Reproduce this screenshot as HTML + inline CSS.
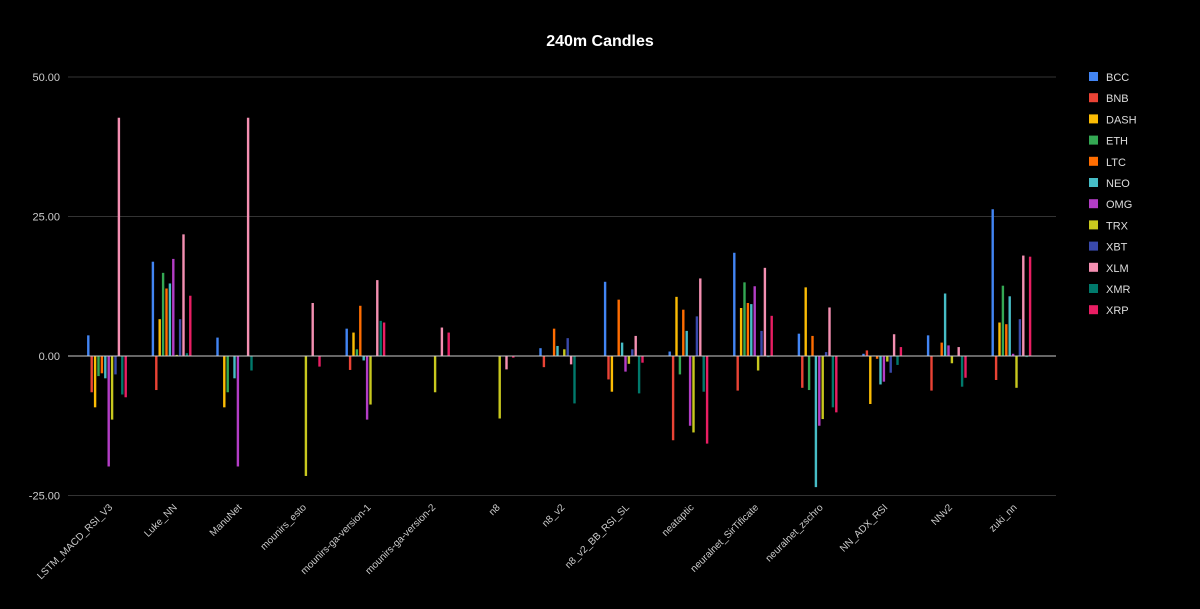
<!DOCTYPE html>
<html><head><meta charset="utf-8"><style>
body{margin:0;background:#000;}
svg text{font-family:"Liberation Sans",sans-serif;}
</style></head><body>
<svg id="c" width="1200" height="604" xmlns="http://www.w3.org/2000/svg">
<rect width="1200" height="604" fill="#000"/>
<text x="600" y="46" text-anchor="middle" font-size="16" font-weight="bold" fill="#fff">240m Candles</text>
</svg>
<script>
const categories=["LSTM_MACD_RSI_V3","Luke_NN","ManuNet","mounirs_esto","mounirs-ga-version-1","mounirs-ga-version-2","n8","n8_v2","n8_v2_BB_RSI_SL","neataptic","neuralnet_SirTificate","neuralnet_zschro","NN_ADX_RSI","NNv2","zuki_nn"];
const seriesNames=["BCC","BNB","DASH","ETH","LTC","NEO","OMG","TRX","XBT","XLM","XMR","XRP"];
const seriesColors=["#4285f4","#ea4335","#fbbc04","#34a853","#ff6d01","#46bdc6","#b33dc6","#c8c81e","#3949ab","#f48fb1","#00796b","#e91e63"];
const BCC=[3.7,16.9,3.3,0,4.9,0,0,1.4,13.3,0.8,18.5,4.0,0.4,3.7,26.3];
const BNB=[-6.5,-6.1,0,0,-2.5,0,0,-2.0,-4.2,-15.1,-6.2,-5.7,1.0,-6.2,-4.3];
const DASH=[-9.2,6.6,-9.2,0,4.2,0,0,0.1,-6.4,10.6,8.6,12.3,-8.6,0,6.0];
const ETH=[-3.6,14.9,-6.5,0,1.2,0,0,0,0.1,-3.3,13.2,-6.1,0.1,0.1,12.6];
const LTC=[-3.1,12.1,0,0,9.0,0,0,4.9,10.1,8.3,9.5,3.6,-0.5,2.4,5.7];
const NEO=[-4.0,13.0,-4.0,0,-0.8,0,0,1.8,2.4,4.5,9.3,-23.5,-5.1,11.2,10.7];
const OMG=[-19.8,17.4,-19.8,0,-11.4,0,0,0,-2.8,-12.5,12.5,-12.5,-4.6,1.9,0.4];
const TRX=[-11.4,0.2,0,-21.5,-8.7,-6.5,-11.2,1.2,-1.4,-13.7,-2.6,-11.3,-1.0,-1.3,-5.7];
const XBT=[-3.3,6.6,0,0,0,0,0,3.2,1.2,7.1,4.5,0.7,-3.0,0,6.6];
const XLM=[42.7,21.8,42.7,9.5,13.6,5.1,-2.4,-1.5,3.6,13.9,15.8,8.7,3.9,1.6,18.0];
const XMR=[-6.9,0.5,-2.6,0,6.3,0,0,-8.5,-6.7,-6.4,-0.2,-9.2,-1.6,-5.5,-0.2];
const XRP=[-7.4,10.8,0,-1.9,6.0,4.2,-0.3,0,-1.2,-15.7,7.2,-10.1,1.6,-3.9,17.8];
const seriesValues=[BCC,BNB,DASH,ETH,LTC,NEO,OMG,TRX,XBT,XLM,XMR,XRP];
const yTicks=[50,25,0,-25];
const yTickLabels=["50.00","25.00","0.00","-25.00"];

const svg=document.getElementById('c');
const NS="http://www.w3.org/2000/svg";
const plotL=68,plotR=1056,groupL=74.7,groupW=64.6;
function y(v){return 356-v*5.58;}
function xc(i){return groupL+groupW*(i+0.5);}
function mk(t,a){const e=document.createElementNS(NS,t);for(const k in a)e.setAttribute(k,a[k]);svg.appendChild(e);return e;}

yTicks.forEach((t,i)=>{
  if(t!==0){const g=mk('line',{x1:plotL,x2:plotR,y1:y(t),y2:y(t),stroke:'#333','stroke-width':1});
  
  }
  const l=mk('text',{x:60,y:y(t)+4,'text-anchor':'end','font-size':11,fill:'#ccc'});
  l.textContent=yTickLabels[i];
  
  
});

const barStep=3.4,barW=2.4;
seriesValues.forEach((vals,s)=>{
  vals.forEach((v,i)=>{
    if(v===0)return;
    const x=xc(i)+(s-5.5)*barStep-barW/2;
    const r=mk('rect',{x:x,y:Math.min(y(0),y(v)),width:barW,height:Math.abs(y(v)-y(0)),fill:seriesColors[s]});
    
    
  });
});
const z=mk('line',{x1:plotL,x2:plotR,y1:y(0),y2:y(0),stroke:'#ccc','stroke-width':1});



categories.forEach((c,i)=>{
  const x=xc(i)+6,yy=508;
  const t=mk('text',{x:x,y:yy,'text-anchor':'end','font-size':10,fill:'#ccc',transform:`rotate(-45 ${x} ${yy})`});
  t.textContent=c;
  
  
});

seriesNames.forEach((n,s)=>{
  const yy=77+s*21.2;
  const r=mk('rect',{x:1089,y:yy-5,width:9,height:9,fill:seriesColors[s]});
  
  
  const t=mk('text',{x:1106,y:yy+4,'font-size':11,fill:'#ddd'});
  t.textContent=n;
  
  
});
</script>
</body></html>
